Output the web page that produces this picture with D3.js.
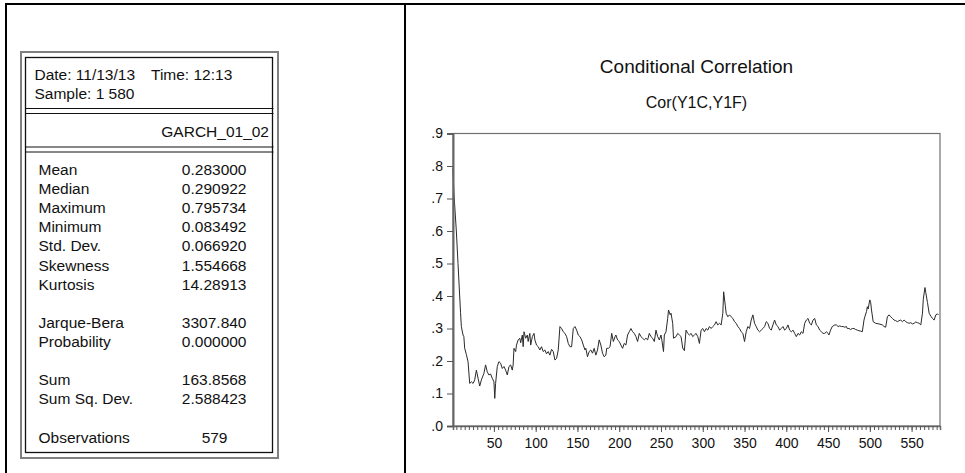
<!DOCTYPE html>
<html><head><meta charset="utf-8">
<script src="https://cdn.jsdelivr.net/npm/d3@7"></script>
<style>
body{margin:0;background:#fff}
text{font-family:"Liberation Sans",Arial,Helvetica,sans-serif;fill:#111}
</style>
</head><body>
<svg id="c" width="965" height="473"></svg>
<script>
// ---------- data ----------
const obs = [1,2,3,5,7,9,10,11,13,14,15,17,19,21,23,25,27,29,31,33,35,38,40,42,44,46,48,50,51,52,54,56,58,60,62,64,66,68,70,72,73,74,76,77,79,81,82,84,85,86,88,90,91,93,94,96,98,99,101,103,105,107,109,111,113,115,117,119,121,123,125,127,129,131,133,135,137,139,141,143,145,147,149,151,153,155,157,159,160,162,164,166,168,170,172,174,176,178,180,182,184,185,187,189,191,193,195,196,198,200,202,204,206,208,210,212,214,216,218,220,222,224,226,228,230,232,234,236,238,240,242,244,246,248,250,251,253,254,256,258,259,261,262,264,265,268,270,272,274,276,278,280,282,284,286,288,290,292,294,296,298,300,302,304,306,308,310,312,314,316,318,320,322,324,325,327,328,330,332,334,336,338,340,342,344,346,348,350,352,354,356,358,360,362,364,366,368,370,372,374,376,378,380,382,384,386,388,390,392,394,396,398,400,402,404,406,408,410,412,414,416,418,420,422,424,426,428,430,432,434,436,438,440,442,444,446,448,450,451,453,455,458,460,462,464,466,468,470,472,473,475,477,479,481,483,485,487,489,491,493,494,496,497,498,499,500,501,502,504,507,511,515,517,519,521,523,525,527,529,531,533,535,537,539,541,543,545,547,549,551,553,555,557,559,561,563,564,566,567,569,571,573,575,577,579,581,582];
const corr = [.795,.72,.68,.60,.50,.40,.35,.306,.28,.275,.239,.22,.198,.131,.136,.131,.142,.172,.147,.123,.142,.162,.188,.167,.157,.16,.147,.136,.085,.131,.183,.198,.193,.177,.183,.172,.157,.183,.188,.172,.188,.239,.229,.249,.265,.27,.256,.28,.244,.29,.27,.28,.26,.285,.249,.275,.285,.265,.249,.244,.234,.244,.229,.234,.222,.229,.218,.236,.229,.203,.208,.234,.306,.30,.29,.285,.275,.254,.244,.244,.30,.306,.295,.28,.275,.265,.249,.234,.239,.213,.229,.234,.224,.239,.218,.234,.265,.249,.224,.213,.218,.239,.239,.244,.285,.26,.275,.28,.265,.26,.249,.239,.254,.249,.28,.29,.30,.29,.285,.275,.26,.285,.275,.27,.265,.27,.265,.285,.275,.27,.26,.295,.275,.265,.28,.265,.229,.28,.29,.331,.357,.342,.347,.316,.27,.275,.285,.28,.275,.24,.232,.295,.285,.28,.285,.275,.28,.285,.275,.254,.295,.30,.29,.30,.295,.306,.30,.306,.311,.321,.311,.316,.311,.347,.413,.37,.347,.336,.342,.336,.331,.321,.316,.306,.30,.29,.285,.26,.29,.306,.30,.326,.342,.316,.306,.295,.29,.295,.30,.306,.321,.316,.30,.295,.311,.326,.311,.306,.295,.30,.306,.295,.30,.311,.295,.29,.295,.285,.275,.285,.28,.29,.285,.316,.326,.331,.316,.311,.326,.331,.311,.306,.295,.29,.285,.285,.29,.285,.28,.295,.306,.311,.311,.306,.308,.306,.306,.304,.306,.30,.30,.297,.30,.30,.297,.295,.293,.292,.29,.326,.336,.352,.367,.36,.375,.388,.38,.357,.321,.316,.314,.311,.306,.304,.336,.342,.336,.331,.326,.324,.321,.324,.326,.321,.326,.321,.318,.316,.318,.314,.316,.32,.318,.316,.311,.347,.39,.426,.41,.38,.347,.338,.331,.326,.342,.345,.342];
const yTicks = [0,.1,.2,.3,.4,.5,.6,.7,.8,.9];
const xTickLabels = [50,100,150,200,250,300,350,400,450,500,550];
const chartTitle = "Conditional Correlation";
const chartSubtitle = "Cor(Y1C,Y1F)";
const headerLine1 = ["Date: 11/13/13", "Time: 12:13"];
const headerLine2 = "Sample: 1 580";
const seriesName = "GARCH_01_02";
const statLabels = ["Mean","Median","Maximum","Minimum","Std. Dev.","Skewness","Kurtosis","","Jarque-Bera","Probability","","Sum","Sum Sq. Dev.","","Observations"];
const statValues = ["0.283000","0.290922","0.795734","0.083492","0.066920","1.554668","14.28913","","3307.840","0.000000","","163.8568","2.588423","","579"];

// ---------- drawing ----------
const svg = d3.select("#c");

// outer page frame
svg.append("line").attr("x1",6).attr("x2",6).attr("y1",3).attr("y2",473).attr("stroke","#000").attr("stroke-width",2);
svg.append("line").attr("x1",5).attr("x2",965).attr("y1",4).attr("y2",4).attr("stroke","#000").attr("stroke-width",2);
svg.append("line").attr("x1",405).attr("x2",405).attr("y1",3).attr("y2",473).attr("stroke","#000").attr("stroke-width",2);

// ---- statistics table ----
const tb = svg.append("g");
tb.append("rect").attr("x",21).attr("y",52).attr("width",257).attr("height",406)
  .attr("fill","none").attr("stroke","#808080").attr("stroke-width",2);
tb.append("rect").attr("x",25.5).attr("y",57.5).attr("width",247).attr("height",395)
  .attr("fill","none").attr("stroke","#111").attr("stroke-width",1.3);
[108.5,113.5,147,152].forEach(yy=>{
  tb.append("line").attr("x1",25.5).attr("x2",273.5).attr("y1",yy).attr("y2",yy)
    .attr("stroke","#111").attr("stroke-width",1.2);
});
const tf = "15.5px";
tb.append("text").attr("x",34.5).attr("y",80).style("font-size",tf).text(headerLine1[0]);
tb.append("text").attr("x",151).attr("y",80).style("font-size",tf).text(headerLine1[1]);
tb.append("text").attr("x",34.5).attr("y",99).style("font-size",tf).text(headerLine2);
tb.append("text").attr("x",269).attr("y",136.5).attr("text-anchor","end").style("font-size",tf).text(seriesName);
const rowY = d3.scaleLinear().domain([0,14]).range([175,442.5]);
statLabels.forEach((lab,i)=>{
  if(!lab) return;
  tb.append("text").attr("x",38.5).attr("y",rowY(i)).style("font-size",tf).text(lab);
  const last = i===statLabels.length-1;
  tb.append("text").attr("x", last?227.5:246.5).attr("y",rowY(i)).attr("text-anchor","end")
    .style("font-size",tf).text(statValues[i]);
});

// ---- chart ----
const L=453, R=940, T=133.5, B=426;
const x = d3.scaleLinear().domain([1,584]).range([L,R]);
const y = d3.scaleLinear().domain([0,.9]).range([B,T]);

svg.append("text").attr("x",(L+R)/2).attr("y",73).attr("text-anchor","middle")
  .style("font-size","19px").text(chartTitle);
svg.append("text").attr("x",(L+R)/2).attr("y",108).attr("text-anchor","middle")
  .style("font-size","16px").text(chartSubtitle);

// frame
svg.append("rect").attr("x",L).attr("y",T).attr("width",R-L).attr("height",B-T)
  .attr("fill","none").attr("stroke","#707070").attr("stroke-width",1.2);

// series line (drawn before axes so the axis covers the first points)
const pts = obs.map((t,i)=>[t,corr[i]]);
svg.append("path").datum(pts)
  .attr("fill","none").attr("stroke","#2a2a2a").attr("stroke-width",1)
  .attr("d", d3.line().x(d=>x(d[0])).y(d=>y(d[1])));

const fmt = v => v===0 ? ".0" : d3.format(".1f")(v).replace(/^0/,"");
const yAxis = svg.append("g").attr("transform",`translate(${L},0)`)
  .call(d3.axisLeft(y).tickValues(yTicks).tickSize(6).tickPadding(4).tickFormat(fmt));
const xMinor = svg.append("g").attr("transform",`translate(0,${B})`)
  .call(d3.axisBottom(x).tickValues(d3.range(5,581,5)).tickSize(4).tickFormat(""));
const xMajor = svg.append("g").attr("transform",`translate(0,${B})`)
  .call(d3.axisBottom(x).tickValues(xTickLabels).tickSize(6).tickPadding(6).tickFormat(d3.format("d")));
[yAxis,xMinor,xMajor].forEach(g=>{
  g.select(".domain").attr("stroke","#666").attr("stroke-width",2);
  g.selectAll(".tick line").attr("stroke","#555").attr("stroke-width",1);
  g.selectAll(".tick text").style("font-size","14px").attr("fill","#111")
    .style("font-family",'"Liberation Sans",Arial,sans-serif');
});
xMinor.select(".domain").attr("stroke-width",1.5);
xMajor.select(".domain").remove();
</script>
</body></html>
